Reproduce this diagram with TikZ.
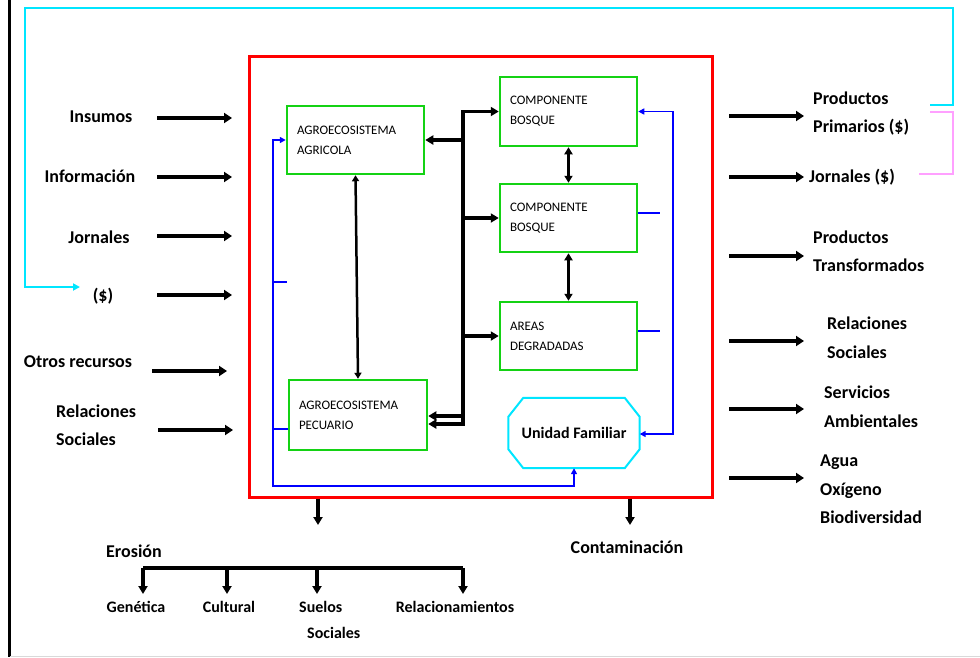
\documentclass[tikz,border=0pt]{standalone}
\usepackage{fontspec}
\setmainfont{Carlito}
\usetikzlibrary{arrows.meta,calc}
\definecolor{myred}{RGB}{255,0,0}
\definecolor{mygreen}{RGB}{20,210,20}
\definecolor{mycyan}{RGB}{0,230,255}
\definecolor{myblue}{RGB}{0,0,255}
\definecolor{mypink}{RGB}{255,160,255}
\newcommand\lblfont{\fontsize{18}{28.5}\selectfont\bfseries}
\newcommand\smlfont{\fontsize{16}{26}\selectfont\bfseries}
\newcommand\boxfont{\fontsize{13}{20}\selectfont}
\tikzset{
  gbox/.style={draw=mygreen, line width=2.5pt, fill=white, text width=117pt, inner xsep=10pt, inner ysep=0pt, minimum height=68pt, align=left, font=\boxfont},
  lbl/.style={inner sep=0pt, font=\lblfont, align=left},
  sml/.style={inner sep=0pt, font=\smlfont, align=left},
  bigarr/.style={line width=3.5pt, -{Triangle[length=8pt,width=10pt]}},
  bus/.style={line width=3.5pt},
  thinbus/.style={line width=2.5pt},
  bline/.style={draw=myblue, line width=1.5pt},
  btips/.style={{Triangle[length=6pt,width=6pt]}-{Triangle[length=6pt,width=6pt]}},
  cyanline/.style={draw=mycyan, line width=2pt},
  pinkline/.style={draw=mypink, line width=1.2pt}
}
\begin{document}
\begin{tikzpicture}[x=1pt,y=-1pt,>={Triangle[length=8pt,width=9pt]}]
\fill[white] (0,0) rectangle (980,657);
\useasboundingbox (0,0) rectangle (980,657);
% frame
\draw[line width=3pt] (9,0) -- (9,657);
\draw[black!15, line width=1pt] (10,656) -- (980,656);

% system box
\node[draw=myred, line width=3pt, minimum width=463pt, minimum height=441pt, inner sep=0pt] (sys) at (480.5,276.5) {};

% inner boxes
\node[gbox] (agri) at (355.5,140) {AGROECOSISTEMA\\AGRICOLA};
\node[gbox, minimum height=69pt] (comp1) at (568.5,111.5) {COMPONENTE\\BOSQUE};
\node[gbox] (comp2) at (568.5,218) {COMPONENTE\\BOSQUE};
\node[gbox] (areas) at (568.5,336) {AREAS\\DEGRADADAS};
\node[gbox, text width=118pt, minimum height=70pt] (pec) at (358,415) {AGROECOSISTEMA\\PECUARIO};
\node[minimum width=131pt, minimum height=70pt, inner sep=0pt, font=\fontsize{16}{20}\selectfont\bfseries] (uf) at (574,433) {Unidad Familiar};
\draw[mycyan, line width=2pt]
  ($(uf.north west)+(15,0)$) -- ($(uf.north east)+(-15,0)$) -- ($(uf.north east)+(0,19)$)
  -- ($(uf.south east)+(0,-19)$) -- ($(uf.south east)+(-15,0)$) -- ($(uf.south west)+(15,0)$)
  -- ($(uf.south west)+(0,-19)$) -- ($(uf.north west)+(0,19)$) -- cycle;

% black internal connectors
\coordinate (bt) at (463,111.5);
\coordinate (bb) at (463,424);
\coordinate (b416) at (463,416);
\draw[bus,<->] (pec.east |- bb) -- (bb) -- (bt) -- (comp1.west);
\draw[bus,->] (agri.east -| bb) -- (agri.east);
\draw[bus,->] (comp2.west -| bb) -- (comp2.west);
\draw[bus,->] (areas.west -| bb) -- (areas.west);
\draw[bus,->] (b416) -- (b416 -| pec.east);
\draw[thinbus,{Triangle[length=6pt,width=7pt]}-{Triangle[length=6pt,width=7pt]}] (agri.south) -- (pec.north);
\draw[bus,{Triangle[length=7pt,width=8pt]}-{Triangle[length=7pt,width=8pt]}] (comp1.south) -- (comp2.north);
\draw[bus,{Triangle[length=7pt,width=8pt]}-{Triangle[length=7pt,width=8pt]}] (comp2.south) -- (areas.north);

% blue connectors
\coordinate (bl) at (273,486);
\coordinate (bstub) at (273,282);
\coordinate (bpec) at (273,429);
\coordinate (br) at (673,434);
\draw[bline,btips] (agri.west) -- (agri.west -| bl) -- (bl) -- (bl -| uf.south) -- (uf.south);
\draw[bline] (bstub) -- ++(14,0);
\draw[bline] (bpec) -- (bpec -| pec.west);
\draw[bline,btips] (comp1.east) -- (comp1.east -| br) -- (br) -- (br -| uf.east);
\draw[bline] ($(comp2.east)+(0,-5)$) -- ++(22,0);
\draw[bline] ($(areas.east)+(0,-5)$) -- ++(22,0);

% left inputs
\node[lbl] (lIns) at (101,117) {Insumos};
\node[lbl] (lInf) at (90,176) {Información};
\node[lbl] (lJor) at (99,237) {Jornales};
\node[lbl] (lDol) at (103,296) {(\$)};
\node[lbl] (lOtr) at (78,362) {Otros recursos};
\node[lbl, anchor=west] (lRel) at (56,425) {Relaciones\\Sociales};
\foreach \n/\xa/\xb/\y in {1/157/232/118, 2/157/232/177, 3/157/232/236, 4/157/232/295, 5/152/227/371, 6/158/233/430}{
  \coordinate (in\n s) at (\xa,\y);
  \coordinate (in\n e) at (\xb,\y);
  \draw[bigarr] (in\n s) -- (in\n e);
}

% right outputs
\node[lbl, anchor=west] (rPP) at (813,113.5) {Productos\\Primarios (\$)};
\node[lbl, anchor=west] (rJor) at (809,177) {Jornales (\$)};
\node[lbl, anchor=west] (rPT) at (813,251) {Productos\\Transformados};
\node[lbl, anchor=west] (rRS) at (827,337.5) {Relaciones\\Sociales};
\node[lbl, anchor=west] (rSA) at (824,406.5) {Servicios\\Ambientales};
\node[lbl, anchor=west] (rAOB) at (820,489.5) {Agua\\Oxígeno\\Biodiversidad};
\foreach \n/\y in {1/116, 2/177, 3/256, 4/341, 5/409, 6/478}{
  \coordinate (out\n s) at (729,\y);
  \coordinate (out\n e) at (804,\y);
  \draw[bigarr] (out\n s) -- (out\n e);
}

% cyan and pink feedback lines
\coordinate (cyA) at (930,105);
\coordinate (cyB) at (80,287);
\draw[cyanline, -{Triangle[length=7pt,width=7pt]}] (cyA) -- ++(23,0) |- (25,8) |- (cyB);
\coordinate (pkA) at (930,112);
\coordinate (pkB) at (919,174);
\draw[pinkline] (pkA) -- ++(23,0) |- (pkB);

% bottom outputs
\coordinate (eroTop) at (318,525);
\coordinate (conTop) at (630,525);
\draw[bus,->] (sys.south -| eroTop) -- (eroTop);
\draw[bus,->] (sys.south -| conTop) -- (conTop);
\node[lbl] (bEro) at (134,551) {Erosión};
\node[lbl] (bCon) at (627,547) {Contaminación};
\coordinate (t1) at (143,568);
\coordinate (t2) at (227,568);
\coordinate (t3) at (317,568);
\coordinate (t4) at (463,568);
\draw[bus] (t1) -- (t4);
\foreach \t in {t1,t2,t3,t4}{
  \draw[bus,->] (\t) -- ++(0,26);
}
\node[sml] (bGen) at (136,607) {Genética};
\node[sml] (bCul) at (229,607) {Cultural};
\node[sml, anchor=west] (bSue) at (299,620) {Suelos\\\hspace*{8pt}Sociales};
\node[sml] (bRel) at (455,607) {Relacionamientos};
\end{tikzpicture}
\end{document}
